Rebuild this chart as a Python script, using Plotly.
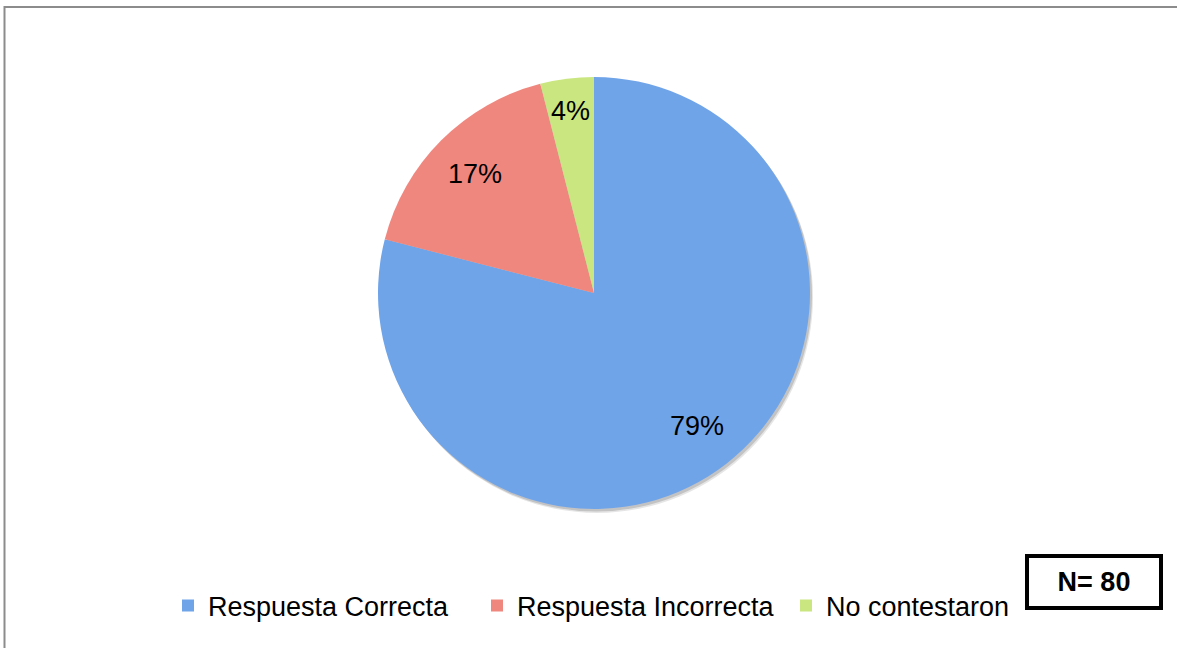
import math
import plotly.graph_objects as go

labels = ["Respuesta Correcta", "Respuesta Incorrecta", "No contestaron"]
values = [79, 17, 4]
colors = ["#70A4E9", "#F0877F", "#C9E681"]
label_radius = [0.78, 0.78, 0.85]
n_text = "N= 80"

W, H = 1177, 648
cx, cy, r = 594, 293, 216
FONT = "Liberation Sans, Arial, sans-serif"


def dom(dx=0, dy=0, rr=r):
    return dict(x=[(cx + dx - rr) / W, (cx + dx + rr) / W],
                y=[1 - (cy + dy + rr) / H, 1 - (cy + dy - rr) / H])


fig = go.Figure()
# soft drop shadow
for dx, dy, op in [(3, 4, 0.10), (2, 2.5, 0.15)]:
    fig.add_trace(go.Pie(values=[1], labels=["shadow"], showlegend=False, sort=False,
                         marker=dict(colors=[f"rgba(0,0,0,{op})"], line=dict(width=0)),
                         textinfo="none", hoverinfo="skip", domain=dom(dx, dy)))

fig.add_trace(go.Pie(
    labels=labels, values=values, sort=False, direction="clockwise", rotation=0,
    marker=dict(colors=colors, line=dict(width=0)),
    textinfo="none",
    domain=dom(),
    hoverinfo="label+percent",
))

# percentage labels placed at the mid-angle of each slice
annotations = []
total = sum(values)
cum = 0
for v, f in zip(values, label_radius):
    mid = (cum + v / 2) / total * 2 * math.pi
    cum += v
    px = cx + f * r * math.sin(mid)
    py = cy - f * r * math.cos(mid)
    annotations.append(dict(text=f"{round(100 * v / total)}%", xref="paper", yref="paper",
                            x=px / W, y=1 - py / H, xanchor="center", yanchor="middle",
                            showarrow=False, font=dict(size=27, color="black", family=FONT)))

annotations.append(dict(text="<b>" + n_text + "</b>", xref="paper", yref="paper",
                        x=1094 / W, y=1 - 582 / H, xanchor="center", yanchor="middle",
                        showarrow=False, font=dict(size=27, color="black", family=FONT),
                        bordercolor="black", borderwidth=4, width=128, height=46,
                        bgcolor="white"))

fig.update_layout(
    width=W, height=H,
    margin=dict(l=0, r=0, t=0, b=0),
    paper_bgcolor="white", plot_bgcolor="white",
    font=dict(family=FONT, size=27, color="black"),
    showlegend=True,
    legend=dict(orientation="h", x=168 / W, xanchor="left", y=1 - 606 / H, yanchor="middle",
                font=dict(size=27), itemwidth=30, tracegroupgap=0,
                entrywidth=264, entrywidthmode="pixels"),
    shapes=[dict(type="rect", xref="paper", yref="paper",
                 x0=4.5 / W, x1=1.01, y0=-0.01, y1=1 - 7 / H,
                 line=dict(color="#8C8C8C", width=2))],
    annotations=annotations,
)

fig.write_html("out.html", config={"displayModeBar": False},
               post_script="document.body.style.margin='0';document.body.style.overflow='hidden';")
